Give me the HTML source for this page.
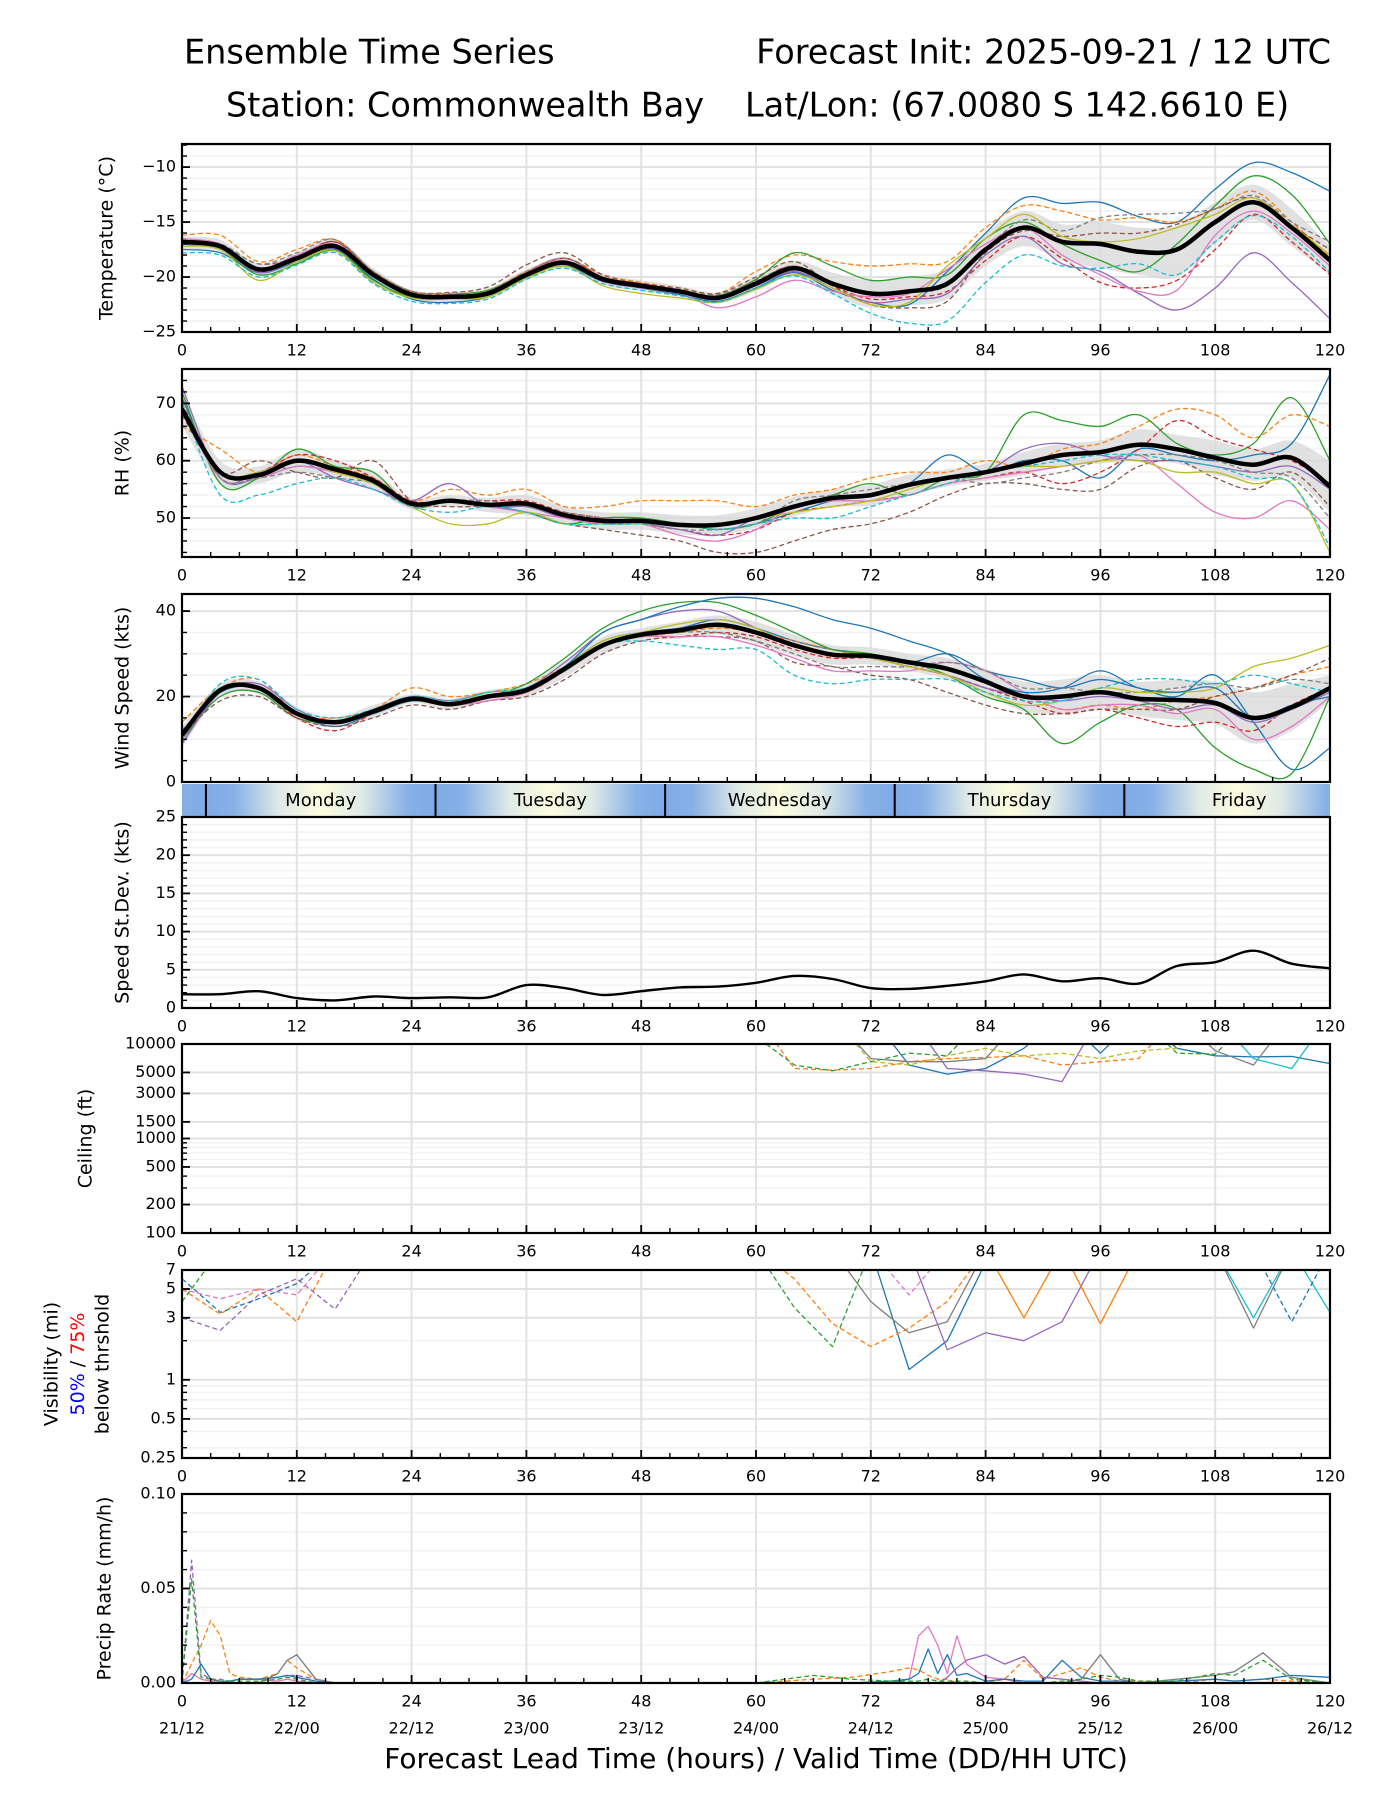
<!DOCTYPE html>
<html><head><meta charset="utf-8">
<style>
html,body{margin:0;padding:0;background:#fff;}
svg{display:block;font-family:"DejaVu Sans","Liberation Sans",sans-serif;}
</style></head>
<body>
<svg id="chart" width="1400" height="1800" viewBox="0 0 1400 1800" xmlns="http://www.w3.org/2000/svg">
<defs>
<linearGradient id="dayGrad" gradientUnits="userSpaceOnUse" x1="205.9" y1="0" x2="435.5" y2="0" spreadMethod="repeat">
<stop offset="0" stop-color="#7faae6"/><stop offset="0.12" stop-color="#86b0e6"/><stop offset="0.32" stop-color="#dfe9e6"/><stop offset="0.5" stop-color="#fdfddf"/><stop offset="0.68" stop-color="#dfe9e6"/><stop offset="0.88" stop-color="#86b0e6"/><stop offset="1" stop-color="#7faae6"/>
</linearGradient>
</defs>
<text x="184" y="54" font-size="33.5" dominant-baseline="middle">Ensemble Time Series</text>
<text x="1331" y="54" font-size="33.5" text-anchor="end" dominant-baseline="middle">Forecast Init: 2025-09-21 / 12 UTC</text>
<text x="226" y="107" font-size="33.5" dominant-baseline="middle">Station: Commonwealth Bay</text>
<text x="745" y="107" font-size="33.5" dominant-baseline="middle">Lat/Lon: (67.0080 S 142.6610 E)</text>
<text x="756" y="1760" font-size="28" text-anchor="middle" dominant-baseline="middle">Forecast Lead Time (hours) / Valid Time (DD/HH UTC)</text>
<text transform="translate(52,1364) rotate(-90)" font-size="19" text-anchor="middle" dominant-baseline="middle">Visibility (mi)</text>
<text transform="translate(78,1364) rotate(-90)" font-size="19" text-anchor="middle" dominant-baseline="middle"><tspan fill="#0000ff">50%</tspan> / <tspan fill="#ff0000">75%</tspan></text>
<text transform="translate(103,1364) rotate(-90)" font-size="19" text-anchor="middle" dominant-baseline="middle">below thrshold</text>
</svg>
<script>
// ---------- DATA ----------
const hours = [0,4,8,12,16,20,24,28,32,36,40,44,48,52,56,60,64,68,72,76,80,84,88,92,96,100,104,108,112,116,120];
const xTickLabels = ["0","12","24","36","48","60","72","84","96","108","120"];
const dateLabels = ["21/12","22/00","22/12","23/00","23/12","24/00","24/12","25/00","25/12","26/00","26/12"];
const dayNames = ["Monday","Tuesday","Wednesday","Thursday","Friday"];
const dayStarts = [2.5,26.5,50.5,74.5,98.5];

const tempMean = [-16.8,-17.2,-19.3,-18.3,-17.2,-19.8,-21.6,-21.8,-21.5,-19.8,-18.7,-20.2,-20.8,-21.3,-21.9,-20.6,-19.2,-20.6,-21.5,-21.3,-20.6,-17.5,-15.5,-16.8,-17.0,-17.7,-17.5,-15.0,-13.2,-15.5,-18.5];
const tempLo = [-17.5,-17.8,-19.8,-18.8,-17.8,-20.4,-22.0,-22.2,-22.0,-20.3,-19.2,-20.7,-21.3,-21.8,-22.4,-21.3,-19.9,-21.6,-22.8,-22.6,-22.0,-19.0,-17.2,-18.5,-19.2,-19.8,-20.0,-17.0,-14.8,-17.2,-19.8];
const tempHi = [-16.3,-16.6,-18.8,-17.8,-16.6,-19.2,-21.2,-21.4,-21.0,-19.3,-18.2,-19.7,-20.3,-20.8,-21.4,-19.9,-18.5,-19.6,-20.3,-20.0,-19.2,-16.0,-14.0,-15.2,-15.0,-15.5,-15.3,-13.2,-11.6,-13.8,-17.2];
const tempM1 = [-17.5,-17.8,-19.6,-18.6,-17.5,-20.2,-22.0,-22.3,-21.8,-20.0,-19.0,-20.4,-21.0,-21.6,-22.2,-21.0,-19.6,-21.2,-22.3,-22.5,-19.5,-16.0,-12.8,-13.3,-13.2,-14.5,-15.0,-12.0,-9.6,-10.5,-12.2];
const tempM2 = [-16.2,-16.2,-18.6,-17.5,-16.6,-19.5,-21.3,-21.5,-21.2,-19.5,-18.3,-19.8,-20.5,-21.0,-21.5,-19.5,-18.0,-18.6,-19.0,-18.8,-18.6,-15.5,-13.5,-14.0,-14.8,-14.6,-15.0,-13.8,-12.2,-15.0,-18.2];
const tempM3 = [-17.0,-17.5,-19.8,-18.8,-17.6,-20.3,-21.8,-21.6,-21.2,-19.7,-18.8,-20.3,-20.8,-21.3,-21.7,-20.2,-17.8,-19.0,-20.3,-20.0,-19.8,-16.5,-15.0,-17.0,-18.5,-19.5,-17.0,-13.5,-10.8,-12.5,-17.0];
const tempM4 = [-16.8,-17.3,-19.5,-18.2,-16.8,-19.7,-21.5,-21.7,-21.3,-19.6,-18.3,-20.0,-20.6,-21.2,-21.8,-20.4,-19.0,-20.8,-22.0,-21.8,-21.3,-18.5,-16.3,-18.3,-20.5,-21.0,-20.3,-17.5,-14.3,-16.8,-19.8];
const tempM5 = [-17.0,-17.4,-19.6,-18.4,-17.4,-20.0,-21.7,-21.9,-21.6,-19.9,-18.8,-20.4,-21.0,-21.5,-22.0,-20.8,-19.5,-21.0,-22.3,-22.0,-21.5,-18.0,-16.3,-18.8,-19.5,-21.5,-23.0,-21.0,-17.8,-20.5,-23.8];
const tempM6 = [-16.6,-17.0,-18.8,-18.2,-16.8,-19.5,-21.3,-21.4,-20.9,-18.9,-17.8,-19.8,-20.6,-21.0,-21.5,-20.0,-18.6,-20.8,-22.5,-22.8,-22.2,-17.8,-15.8,-16.3,-16.0,-16.0,-15.2,-13.8,-12.8,-15.3,-17.5];
const tempM7 = [-16.5,-17.0,-19.2,-18.0,-17.0,-19.6,-21.5,-21.7,-21.4,-19.6,-18.5,-20.2,-20.8,-21.4,-22.8,-21.8,-20.3,-21.3,-21.8,-21.5,-19.3,-17.0,-15.5,-18.0,-19.8,-21.3,-21.2,-16.2,-14.0,-16.0,-19.0];
const tempM8 = [-16.8,-17.0,-18.8,-17.8,-16.6,-19.5,-21.3,-21.6,-21.3,-19.5,-18.3,-20.0,-20.7,-21.2,-21.6,-20.3,-19.0,-20.5,-21.6,-21.4,-20.8,-17.5,-14.8,-15.8,-14.6,-14.3,-14.2,-13.8,-12.6,-15.0,-16.8];
const tempM9 = [-17.2,-17.5,-20.3,-18.6,-17.6,-20.5,-21.9,-22.0,-21.8,-20.1,-19.0,-20.8,-21.5,-21.9,-22.3,-21.1,-19.8,-21.0,-22.5,-22.3,-19.0,-16.5,-14.3,-16.3,-16.8,-16.5,-15.5,-14.3,-12.8,-15.3,-18.0];
const tempM10 = [-17.8,-18.0,-20.0,-18.9,-17.8,-20.6,-22.2,-22.4,-22.0,-20.2,-19.2,-20.6,-21.2,-21.7,-22.3,-21.0,-19.9,-21.5,-23.3,-24.2,-24.0,-20.5,-18.0,-19.0,-19.2,-18.8,-19.8,-16.8,-14.4,-16.3,-19.6];

const rhMean = [69,58,57.5,60,58.5,56.5,52.5,53,52.3,52.5,50.5,49.5,49.5,48.8,48.8,50,52,53.5,54,55.8,57,58,59.5,61,61.5,62.8,62,60.5,59.3,60.5,55.5];
const rhLo = [66,56,56,58,57,55,51.5,52,51,50.5,49,48,48,47.2,47,48.3,50.3,52,52.2,54,55.5,56.5,57.5,59,59.5,60,59.5,57.5,56.5,57,51];
const rhHi = [72,60,59,62,60,58,53.5,54,53.5,54,52,51,51,50.5,50.5,51.7,53.7,55,55.8,57.6,58.5,59.5,61.5,63,63.5,65.5,64.5,63.5,62,63.5,60];
const rhM1 = [71,57,57,59,58,56,52,53,52,52,50,49,49,49,48,49,51,53,54,56,61,58,60,60,57,62,61,60,61,63,75];
const rhM2 = [66,62,58,61,59,57,53,55,54,55,52,52,53,53,53,52,54,55,57,58,58,60,59,62,63,66,69,68,64,68,66];
const rhM3 = [72,56,57,62,59,58,52,53,52,51,49,50,50,49,48,49,52,54,56,54,57,58,68,67,66,68,63,61,63,71,60];
const rhM4 = [70,58,58,61,60,57,53,53,53,53,51,50,49,48,47,48,51,52,53,54,56,57,58,56,58,62,67,64,62,60,56];
const rhM5 = [73,57,58,60,57,55,53,56,52,52,50,49,49,48,47,50,52,53,54,56,57,58,62,63,61,60,60,59,58,59,55];
const rhM6 = [68,58,60,58,57,60,53,52,52,51,49,48,47,46,44,44,46,48,49,51,54,56,56,55,55,59,60,57,55,58,52];
const rhM7 = [69,57,57,59,58,56,52,53,52,51,50,49,49,47,46,48,52,53,53,54,56,57,58,59,60,61,56,51,50,53,48];
const rhM8 = [70,57,57,58,57,56,52,53,53,52,51,50,49,48,48,49,53,54,55,56,57,56,57,58,60,61,61,60,58,57,50];
const rhM9 = [69,58,58,60,58,56,52,49,49,51,49,49,49,49,49,50,51,52,53,55,57,58,59,59,60,60,58,58,56,56,44];
const rhM10 = [70,54,54,56,57,55,52,51,52,51,49,49,49,49,48,49,50,50,52,54,56,58,59,60,61,61,60,59,57,56,45];

const windMean = [11,21.5,22,16,14,16.5,19.5,18.2,20,21.5,26.5,32,34.5,35.5,36.8,35,32,29.8,29.5,28,26.5,23.5,20,20,21,19.5,19.2,18.5,15,17.5,22];
const windLo = [8,20,20.5,14.5,12.8,15,18.5,17,18.8,20,24.5,30,33,33.5,34.5,32.5,29.5,27.5,27.5,26,24,20.5,16.5,16,17,15.5,14.5,13.5,9,12,19];
const windHi = [13,23,23.5,17.5,15.2,18,20.5,19.5,21.5,23,28.5,34,36,37.5,39,37.5,34.5,32,31.5,30,29,26.5,23.5,24,25,23.5,24,23.5,21,23,25];
const windM1 = [9,21,22,16,13,16,19,18,20,21,27,33,35,36,38,36,33,31,30,28,30,26,24,22,24,22,20,25,14,3,8];
const windM2 = [14,22,24,16,15,17,22,20,21,23,27,32,34,35,36,35,33,31,29,27,25,22,20,17,18,17,19,20,22,25,27];
const windM3 = [10,20,21,15,14,16,19,18,20,23,29,36,40,42,42,39,35,31,30,28,25,20,17,9,14,18,17,8,3,2,20];
const windM4 = [11,21,22,15,12,16,19,18,20,21,26,32,34,34,35,34,31,29,29,27,25,22,19,16,17,15,13,14,12,18,22];
const windM5 = [9,21,23,17,14,17,20,19,21,22,28,35,38,40,40,36,32,30,29,27,25,22,20,19,20,19,17,18,14,17,21];
const windM6 = [11,19,20,15,13,15,18,17,19,20,24,30,33,34,34,33,28,27,25,24,21,18,16,16,17,17,17,20,22,25,29];
const windM7 = [10,22,22,16,14,16,19,18,19,21,26,32,34,34,34,32,29,26,26,26,28,26,21,17,18,18,16,17,10,13,20];
const windM8 = [12,21,22,16,14,17,20,19,20,22,26,32,34,35,35,33,30,27,27,27,28,26,22,22,21,21,22,23,22,24,23];
const windM9 = [11,22,22,16,14,16,19,18,21,22,27,33,35,37,38,36,32,30,29,27,25,21,18,19,22,21,21,22,27,29,32];
const windM10 = [10,23,24,17,15,17,20,19,21,22,26,32,33,32,31,31,25,23,24,24,24,21,19,19,22,24,24,23,25,23,21];
const windM11 = [12,21,22,16,14,16,19,18,20,22,27,35,38,41,43,43,41,38,36,33,30,24,21,22,26,22,21,22,15,18,20];

const stdevValues = [1.8,1.8,2.2,1.3,1.0,1.5,1.3,1.4,1.4,3.0,2.6,1.7,2.2,2.7,2.8,3.3,4.2,3.8,2.6,2.5,2.9,3.5,4.4,3.5,3.9,3.2,5.5,6.0,7.5,5.8,5.2];

const ceilM1 = [20000,20000,20000,20000,20000,20000,20000,20000,20000,20000,20000,20000,20000,20000,20000,20000,20000,20000,20000,6000,4800,5500,9000,20000,8000,20000,9000,7500,7300,7400,6200];
const ceilM2 = [20000,20000,20000,20000,20000,20000,20000,20000,20000,20000,20000,20000,20000,20000,20000,20000,5500,5300,5500,6500,7000,7200,7500,6000,6500,7000,20000,20000,20000,20000,20000];
const ceilM3 = [20000,20000,20000,20000,20000,20000,20000,20000,20000,20000,20000,20000,20000,20000,20000,20000,20000,20000,20000,20000,5500,5200,4800,4000,20000,20000,20000,20000,20000,20000,20000];
const ceilM4 = [20000,20000,20000,20000,20000,20000,20000,20000,20000,20000,20000,20000,20000,20000,20000,20000,20000,20000,7000,6500,6500,7000,20000,20000,20000,20000,20000,8500,6000,20000,20000];
const ceilM5 = [20000,20000,20000,20000,20000,20000,20000,20000,20000,20000,20000,20000,20000,20000,20000,12000,6000,5200,6500,8000,7500,20000,20000,20000,20000,20000,8000,7800,20000,20000,20000];
const ceilM6 = [20000,20000,20000,20000,20000,20000,20000,20000,20000,20000,20000,20000,20000,20000,20000,20000,20000,20000,20000,20000,20000,20000,20000,20000,20000,20000,20000,20000,7000,5500,20000];
const ceilM7 = [20000,20000,20000,20000,20000,20000,20000,20000,20000,20000,20000,20000,20000,20000,20000,20000,20000,20000,6500,6000,7500,9000,7500,8000,7000,8500,9000,20000,20000,20000,20000];

const visM1 = [10,10,10,10,10,10,10,10,10,10,10,10,10,10,10,10,10,10,10,1.2,2,8,10,10,10,10,10,10,10,10,10];
const visM2 = [5,3.2,5,2.8,10,10,10,10,10,10,10,10,10,10,10,10,6,2.7,1.8,2.5,4,10,10,10,10,10,10,10,10,10,10];
const visM3 = [4,10,10,10,10,10,10,10,10,10,10,10,10,10,10,10,3.6,1.8,10,10,10,10,10,10,10,10,10,10,10,10,10];
const visM4 = [10,10,10,10,10,10,10,10,10,10,10,10,10,10,10,10,10,10,10,10,1.7,2.3,2.0,2.8,10,10,10,10,10,10,10];
const visM5 = [10,10,10,10,10,10,10,10,10,10,10,10,10,10,10,10,10,10,4,2.3,2.8,10,10,10,10,10,10,10,2.5,10,10];
const visM6 = [10,10,10,10,10,10,10,10,10,10,10,10,10,10,10,10,10,10,10,10,10,10,3,10,2.7,10,10,10,10,10,10];
const visM7 = [10,10,10,10,10,10,10,10,10,10,10,10,10,10,10,10,10,10,10,10,10,10,10,10,10,10,10,10,3,10,3.3];
const visM8 = [3,2.4,4.5,6,3.5,10,10,10,10,10,10,10,10,10,10,10,10,10,10,10,10,10,10,10,10,10,10,10,10,10,10];
const visM9 = [6,3.3,4.2,5.5,10,10,10,10,10,10,10,10,10,10,10,10,10,10,10,10,10,10,10,10,10,10,10,10,10,2.8,10];
const visM10 = [5,4.2,5,4.5,10,10,10,10,10,10,10,10,10,10,10,10,10,10,10,4.5,10,10,10,10,10,10,10,10,10,10,10];

const precipHours = [0,1,2,3,4,5,6,8,10,11,12,14,16,24,48,60,66,70,74,76,77,78,79,80,81,82,84,86,88,90,92,94,96,98,100,104,108,110,113,116,120];
const precipM1 = [0,0.065,0.005,0.002,0.002,0.001,0.002,0.002,0.003,0.004,0.004,0.002,0,0,0,0,0,0,0,0,0,0,0,0,0,0,0,0,0,0,0,0,0,0,0,0,0,0,0,0,0];
const precipM2 = [0,0.01,0.02,0.033,0.025,0.005,0.003,0.002,0.005,0.012,0.008,0.002,0,0,0,0,0.002,0.003,0.006,0.008,0.007,0.004,0.002,0.002,0,0,0,0.002,0.012,0.002,0.005,0.008,0.003,0.001,0.001,0,0.002,0.001,0.002,0.001,0];
const precipM3 = [0,0.005,0.002,0.001,0.001,0.001,0.002,0.002,0.001,0.002,0.001,0,0,0,0,0,0,0,0,0.002,0.025,0.03,0.02,0.005,0.025,0.01,0.003,0.002,0,0,0,0,0,0,0,0,0,0,0,0,0];
const precipM4 = [0,0.002,0.01,0.002,0.001,0.001,0.002,0.002,0.003,0.004,0.003,0.001,0,0,0,0,0,0,0.001,0.002,0.005,0.018,0.005,0.015,0.004,0.005,0.001,0.002,0.001,0.001,0.012,0.003,0.001,0.001,0,0.001,0.002,0.001,0.002,0.004,0.003];
const precipM5 = [0,0,0,0,0,0,0,0,0,0,0,0,0,0,0,0,0,0,0,0,0,0,0,0.003,0.008,0.012,0.015,0.01,0.014,0.003,0.002,0.001,0,0,0,0,0,0,0,0,0];
const precipM6 = [0,0,0,0,0,0,0,0,0.005,0.012,0.015,0.002,0,0,0,0,0,0,0,0,0,0,0,0,0,0,0,0,0,0,0,0.002,0.015,0.002,0,0.002,0.004,0.006,0.016,0.003,0];
const precipM7 = [0,0.055,0.003,0.002,0.001,0.001,0.001,0.001,0.002,0.003,0.002,0,0,0,0,0,0.004,0.002,0.001,0.001,0.001,0.002,0.001,0.001,0.001,0.001,0,0,0,0,0.001,0.002,0.004,0.003,0.001,0.001,0.005,0.004,0.012,0.002,0];

// ---------- LAYOUT ----------
const NS = "http://www.w3.org/2000/svg";
const svg = document.getElementById('chart');
const X0 = 182, X1 = 1330;
function xScale(h){ return X0 + (h/120)*(X1-X0); }
const C = ["#1f77b4","#ff7f0e","#2ca02c","#d62728","#9467bd","#8c564b","#e377c2","#7f7f7f","#bcbd22","#17becf"];

function mk(tag, attrs, name, parent){
  const el = document.createElementNS(NS, tag);
  for (const k in attrs) el.setAttribute(k, attrs[k]);
  
  
  (parent||svg).appendChild(el);
  return el;
}
function smooth(pts){
  if(!pts.length) return "";
  let d = "M"+pts[0][0].toFixed(1)+","+pts[0][1].toFixed(1);
  for(let i=0;i<pts.length-1;i++){
    const p0=pts[i-1]||pts[i], p1=pts[i], p2=pts[i+1], p3=pts[i+2]||pts[i+1];
    const c1x=p1[0]+(p2[0]-p0[0])/6, c1y=p1[1]+(p2[1]-p0[1])/6;
    const c2x=p2[0]-(p3[0]-p1[0])/6, c2y=p2[1]-(p3[1]-p1[1])/6;
    d += "C"+c1x.toFixed(1)+","+c1y.toFixed(1)+" "+c2x.toFixed(1)+","+c2y.toFixed(1)+" "+p2[0].toFixed(1)+","+p2[1].toFixed(1);
  }
  return d;
}
function linear(pts){ return pts.map((p,i)=>(i?"L":"M")+p[0].toFixed(1)+","+p[1].toFixed(1)).join(""); }

function panel(cfg){
  const {id,top,bot,ymin,ymax,log,majors,majorLabels,minors,ylabel,ylabelX} = cfg;
  const g = mk('g',{},id+'-panel');
  const yScale = v => {
    if(log){ const a=Math.log10(ymin), b=Math.log10(ymax); return bot-(Math.log10(v)-a)/(b-a)*(bot-top); }
    return bot-(v-ymin)/(ymax-ymin)*(bot-top);
  };
  const clipId = 'clip-'+id;
  const cp = mk('clipPath',{id:clipId},id+'-clip',g);
  mk('rect',{x:X0,y:top,width:X1-X0,height:bot-top},id+'-clip-rect',cp);
  (minors||[]).forEach(v=>mk('line',{x1:X0,x2:X1,y1:yScale(v),y2:yScale(v),stroke:"#f2f2f2","stroke-width":1.5},id+'-minor-grid',g));
  majors.forEach(v=>mk('line',{x1:X0,x2:X1,y1:yScale(v),y2:yScale(v),stroke:"#e2e2e2","stroke-width":2},id+'-major-grid',g));
  for(let h=12;h<120;h+=12) mk('line',{x1:xScale(h),x2:xScale(h),y1:top,y2:bot,stroke:"#e2e2e2","stroke-width":2},id+'-v-grid',g);
  const plot = mk('g',{"clip-path":"url(#"+clipId+")"},id+'-plot-area',g);
  for(let h=0;h<=120;h+=3){
    const major = h%12===0;
    mk('line',{x1:xScale(h),x2:xScale(h),y1:bot,y2:bot-(major?8:5),stroke:"#000","stroke-width":major?1.8:1.4},id+'-x-tick',g);
  }
  (minors||[]).forEach(v=>mk('line',{x1:X0,x2:X0+5,y1:yScale(v),y2:yScale(v),stroke:"#000","stroke-width":1.4},id+'-y-minor-tick',g));
  majors.forEach((v,i)=>{
    mk('line',{x1:X0,x2:X0+8,y1:yScale(v),y2:yScale(v),stroke:"#000","stroke-width":1.8},id+'-y-tick',g);
    const t = mk('text',{x:X0-6,y:yScale(v),"font-size":16,"text-anchor":"end","dominant-baseline":"middle"},id+'-y-tick-label',g);
    t.textContent = majorLabels[i];
  });
  if(cfg.xlabels!==false){
    xTickLabels.forEach((lab,i)=>{
      const t = mk('text',{x:xScale(i*12),y:bot+19,"font-size":16,"text-anchor":"middle","dominant-baseline":"middle"},id+'-x-tick-label',g);
      t.textContent = lab;
    });
  }
  if(ylabel){
    const t = mk('text',{transform:"translate("+ylabelX+","+((top+bot)/2)+") rotate(-90)","font-size":19,"text-anchor":"middle","dominant-baseline":"middle"},id+'-y-axis-title',g);
    t.textContent = ylabel;
  }
  return {g, plot, yScale, top, bot};
}
function frame(p,name){
  mk('rect',{x:X0,y:p.top,width:X1-X0,height:p.bot-p.top,fill:"none",stroke:"#000","stroke-width":2.2},name,p.g);
}
function drawBand(p, lo, hi, name){
  const up = hours.map((h,i)=>[xScale(h),p.yScale(hi[i])]);
  const dn = hours.map((h,i)=>[xScale(h),p.yScale(lo[i])]).reverse();
  const d = smooth(up) + smooth(dn).replace("M","L") + "Z";
  mk('path',{d:d,fill:"#d9d9d9","fill-opacity":0.8,stroke:"none"},name,p.plot);
}
function drawLine(p, xs, vals, color, dashed, width, name, lin){
  const pts = xs.map((h,i)=>[xScale(h),p.yScale(vals[i])]);
  const attrs = {d: lin?linear(pts):smooth(pts), fill:"none", stroke:color, "stroke-width":width, "stroke-linejoin":"round"};
  if(dashed) attrs["stroke-dasharray"]="5,3";
  mk('path',attrs,name,p.plot);
}

// ---------- TEMPERATURE ----------
const pT = panel({id:'temp',top:144,bot:332,ymin:-25,ymax:-7.9,majors:[-25,-20,-15,-10],majorLabels:["\u221225","\u221220","\u221215","\u221210"],
  minors:[-24,-23,-22,-21,-19,-18,-17,-16,-14,-13,-12,-11,-9,-8],ylabel:"Temperature (\u00b0C)",ylabelX:107});
drawBand(pT,tempLo,tempHi,'temp-spread-band');
[tempM1,tempM2,tempM3,tempM4,tempM5,tempM6,tempM7,tempM8,tempM9,tempM10].forEach((m,i)=>drawLine(pT,hours,m,C[i],i%2===1,1.3,'temp-member-'+(i+1)));
drawLine(pT,hours,tempMean,"#000",false,4.5,'temp-ensemble-mean');
frame(pT,'temp-frame');

// ---------- RH ----------
const pR = panel({id:'rh',top:369,bot:557,ymin:43.2,ymax:76,majors:[50,60,70],majorLabels:["50","60","70"],
  minors:[44,46,48,52,54,56,58,62,64,66,68,72,74],ylabel:"RH (%)",ylabelX:123});
drawBand(pR,rhLo,rhHi,'rh-spread-band');
[rhM1,rhM2,rhM3,rhM4,rhM5,rhM6,rhM7,rhM8,rhM9,rhM10].forEach((m,i)=>drawLine(pR,hours,m,C[i],i%2===1,1.3,'rh-member-'+(i+1)));
drawLine(pR,hours,rhMean,"#000",false,4.5,'rh-ensemble-mean');
frame(pR,'rh-frame');

// ---------- WIND ----------
const pW = panel({id:'wind',top:594,bot:782,ymin:0,ymax:44,majors:[0,20,40],majorLabels:["0","20","40"],
  minors:[5,10,15,25,30,35],ylabel:"Wind Speed (kts)",ylabelX:123,xlabels:false});
drawBand(pW,windLo,windHi,'wind-spread-band');
[windM1,windM2,windM3,windM4,windM5,windM6,windM7,windM8,windM9,windM10,windM11].forEach((m,i)=>drawLine(pW,hours,m,C[i%10],i%2===1,1.3,'wind-member-'+(i+1)));
drawLine(pW,hours,windMean,"#000",false,4.5,'wind-ensemble-mean');
frame(pW,'wind-frame');

// ---------- DAY BAR ----------
const dayBar = mk('g',{},'day-bar');
mk('rect',{x:X0,y:784,width:X1-X0,height:33,fill:"url(#dayGrad)"},'day-bar-bg',dayBar);
dayStarts.forEach((s,i)=>{
  mk('line',{x1:xScale(s),x2:xScale(s),y1:784,y2:817,stroke:"#000","stroke-width":2},'day-divider',dayBar);
  const t = mk('text',{x:xScale(s+12),y:801,"font-size":18,"text-anchor":"middle","dominant-baseline":"middle"},'day-label-'+dayNames[i].toLowerCase(),dayBar);
  t.textContent = dayNames[i];
});

// ---------- STDEV ----------
const pS = panel({id:'stdev',top:817,bot:1008,ymin:0,ymax:25,majors:[0,5,10,15,20,25],majorLabels:["0","5","10","15","20","25"],
  minors:[1,2,3,4,6,7,8,9,11,12,13,14,16,17,18,19,21,22,23,24],ylabel:"Speed St.Dev. (kts)",ylabelX:123});
drawLine(pS,hours,stdevValues,"#000",false,2.4,'stdev-line');
frame(pS,'stdev-frame');

// ---------- CEILING ----------
const pC = panel({id:'ceiling',top:1044,bot:1233,ymin:100,ymax:10000,log:true,majors:[100,200,500,1000,1500,3000,5000,10000],
  majorLabels:["100","200","500","1000","1500","3000","5000","10000"],minors:[300,400,600,700,800,900],ylabel:"Ceiling (ft)",ylabelX:86});
[[ceilM1,C[0],false],[ceilM2,C[1],true],[ceilM3,C[4],false],[ceilM4,C[7],false],[ceilM5,C[2],true],[ceilM6,C[9],false],[ceilM7,C[8],true]]
  .forEach((m,i)=>drawLine(pC,hours,m[0],m[1],m[2],1.3,'ceiling-member-'+(i+1),true));
frame(pC,'ceiling-frame');

// ---------- VISIBILITY ----------
const pV = panel({id:'vis',top:1270,bot:1458,ymin:0.25,ymax:7,log:true,majors:[0.25,0.5,1,3,5,7],majorLabels:["0.25","0.5","1","3","5","7"],
  minors:[0.3,0.4,0.6,0.7,0.8,0.9,2],ylabel:null});
[[visM1,C[0],false],[visM2,C[1],true],[visM3,C[2],true],[visM4,C[4],false],[visM5,C[7],false],[visM6,C[1],false],[visM7,C[9],false],[visM8,C[4],true],[visM9,C[0],true],[visM10,C[6],true]]
  .forEach((m,i)=>drawLine(pV,hours,m[0],m[1],m[2],1.3,'vis-member-'+(i+1),true));
frame(pV,'vis-frame');

// ---------- PRECIP ----------
const pP = panel({id:'precip',top:1494,bot:1683,ymin:0,ymax:0.1,majors:[0,0.05,0.1],majorLabels:["0.00","0.05","0.10"],
  minors:[0.01,0.02,0.03,0.04,0.06,0.07,0.08,0.09],ylabel:"Precip Rate (mm/h)",ylabelX:105});
[[precipM1,C[4],true],[precipM2,C[1],true],[precipM3,C[6],false],[precipM4,C[0],false],[precipM5,C[4],false],[precipM6,C[7],false],[precipM7,C[2],true]]
  .forEach((m,i)=>drawLine(pP,precipHours,m[0],m[1],m[2],1.3,'precip-member-'+(i+1),true));
frame(pP,'precip-frame');
dateLabels.forEach((lab,i)=>{
  const t = mk('text',{x:xScale(i*12),y:1729,"font-size":16,"text-anchor":"middle","dominant-baseline":"middle"},'date-tick-label',pP.g);
  t.textContent = lab;
});
</script>
</body></html>
